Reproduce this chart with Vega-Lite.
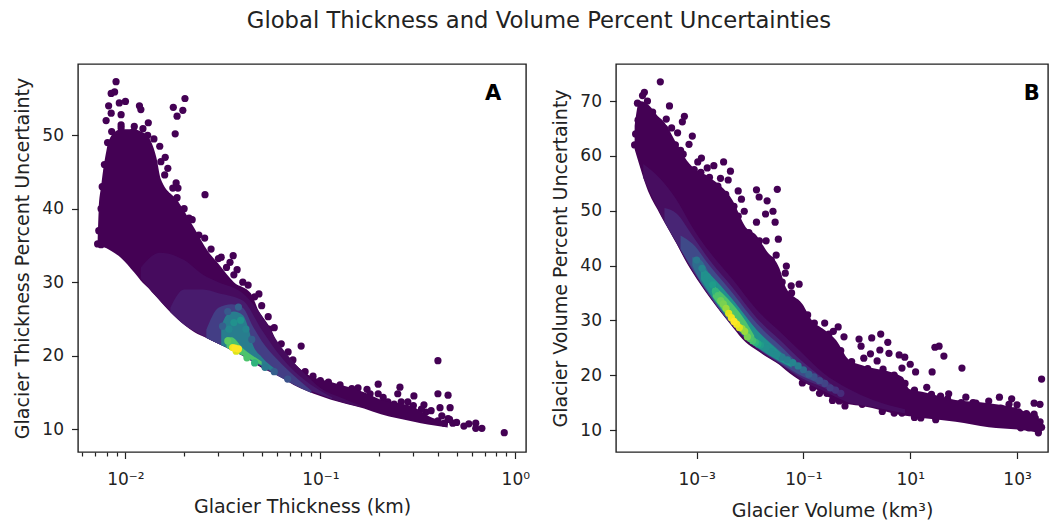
{
"$schema":"https://vega.github.io/schema/vega-lite/v6.json",
"padding":{"left":13,"top":9,"right":0,"bottom":0},
"background":"white",
"title":{"text":"Global Thickness and Volume Percent Uncertainties","anchor":"middle","fontSize":22.7,"fontWeight":"normal","font":"DejaVu Sans","color":"#222","offset":31,"dx":8},
"config":{"view":{"stroke":"#222","strokeWidth":1.4},"font":"DejaVu Sans","axis":{"grid":false,"domain":false,"tickColor":"#222","tickWidth":1.2,"labelColor":"#222","titleColor":"#222","labelFont":"DejaVu Sans","titleFont":"DejaVu Sans","labelFontSize":17,"titleFontSize":19,"titleFontWeight":"normal","labelOverlap":false,"labelBound":false,"labelFlush":false,"labelPadding":8}},
"datasets":{
"aBand":[
{"x":0.0072,"lo":35.2,"hi":35.4,"d":0},{"x":0.0073,"lo":35,"hi":40,"d":0},{"x":0.0075,"lo":34.9,"hi":43,"d":0},{"x":0.008,"lo":34.6,"hi":48,"d":0},{"x":0.0085,"lo":34.2,"hi":50,"d":0},{"x":0.0095,"lo":33.3,"hi":50.8,"d":0},{"x":0.0111,"lo":31.3,"hi":50.8,"d":0},{"x":0.012,"lo":30.2,"hi":50.5,"d":0},{"x":0.0131,"lo":29.2,"hi":49.8,"d":0},{"x":0.0136,"lo":28.7,"hi":49,"d":0},{"x":0.0144,"lo":28,"hi":47,"d":0},{"x":0.0152,"lo":27.3,"hi":44,"d":0},{"x":0.0186,"lo":24.9,"hi":41,"d":0},{"x":0.0225,"lo":23.2,"hi":37.4,"d":0},{"x":0.0265,"lo":22.3,"hi":34.2,"d":0},{"x":0.03,"lo":21.6,"hi":32.5,"d":0},{"x":0.036,"lo":20.6,"hi":30,"d":0},{"x":0.044,"lo":19.3,"hi":28.5,"d":0},{"x":0.048,"lo":18.6,"hi":26.2,"d":0},{"x":0.056,"lo":17.7,"hi":23.5,"d":0},{"x":0.061,"lo":17.3,"hi":21.2,"d":0},{"x":0.073,"lo":16,"hi":19,"d":0},{"x":0.0865,"lo":15.1,"hi":17.4,"d":0},{"x":0.1135,"lo":14,"hi":16.4,"d":0},{"x":0.1675,"lo":12.8,"hi":15,"d":0},{"x":0.2046,"lo":12,"hi":14,"d":0},{"x":0.302,"lo":11,"hi":13,"d":0},{"x":0.356,"lo":10.6,"hi":11.8,"d":0},{"x":0.45,"lo":10.2,"hi":10.9,"d":0},
{"x":0.012,"lo":30.5,"hi":32,"d":0.025},{"x":0.015,"lo":27.5,"hi":34,"d":0.025},{"x":0.02,"lo":24.3,"hi":33,"d":0.025},{"x":0.025,"lo":22.7,"hi":31,"d":0.025},{"x":0.03,"lo":21.6,"hi":30,"d":0.025},{"x":0.04,"lo":20.1,"hi":28.5,"d":0.025},{"x":0.05,"lo":18.6,"hi":25.5,"d":0.025},{"x":0.06,"lo":17.4,"hi":22,"d":0.025},{"x":0.08,"lo":15.7,"hi":18,"d":0.025},{"x":0.1,"lo":14.7,"hi":15.6,"d":0.025},{"x":0.13,"lo":13.6,"hi":14.2,"d":0.025},{"x":0.16,"lo":13,"hi":13.2,"d":0.025},
{"x":0.017,"lo":25.9,"hi":26.5,"d":0.07},{"x":0.02,"lo":24.2,"hi":29,"d":0.07},{"x":0.025,"lo":22.7,"hi":29,"d":0.07},{"x":0.03,"lo":21.6,"hi":28.5,"d":0.07},{"x":0.04,"lo":20.1,"hi":27.5,"d":0.07},{"x":0.05,"lo":18.5,"hi":23.5,"d":0.07},{"x":0.06,"lo":17.3,"hi":20.5,"d":0.07},{"x":0.08,"lo":15.7,"hi":17,"d":0.07},{"x":0.1,"lo":14.7,"hi":15.2,"d":0.07},{"x":0.115,"lo":14.1,"hi":14.3,"d":0.07},
{"x":0.026,"lo":22.4,"hi":23.5,"d":0.18},{"x":0.03,"lo":21.6,"hi":26.5,"d":0.18},{"x":0.035,"lo":20.7,"hi":27,"d":0.18},{"x":0.04,"lo":20,"hi":26.5,"d":0.18},{"x":0.045,"lo":19.2,"hi":24,"d":0.18},{"x":0.05,"lo":18.5,"hi":22,"d":0.18},{"x":0.06,"lo":17.3,"hi":19.5,"d":0.18},{"x":0.075,"lo":15.9,"hi":17,"d":0.18},{"x":0.09,"lo":14.9,"hi":15.2,"d":0.18},
{"x":0.031,"lo":21.4,"hi":24,"d":0.42},{"x":0.033,"lo":21.1,"hi":25.5,"d":0.42},{"x":0.036,"lo":20.6,"hi":26,"d":0.42},{"x":0.04,"lo":20,"hi":25.5,"d":0.42},{"x":0.043,"lo":19.5,"hi":23.5,"d":0.42},{"x":0.045,"lo":19.2,"hi":21.5,"d":0.42},{"x":0.05,"lo":18.6,"hi":19.8,"d":0.42},{"x":0.06,"lo":17.4,"hi":18,"d":0.42},
{"x":0.033,"lo":21.1,"hi":22.5,"d":0.72},{"x":0.035,"lo":20.7,"hi":22.5,"d":0.72},{"x":0.04,"lo":20,"hi":21,"d":0.72},{"x":0.05,"lo":18.7,"hi":19.2,"d":0.72}
],
"aPts":[
{"x":0.00895,"y":57.3},{"x":0.00845,"y":55.7},{"x":0.0088,"y":55.9},{"x":0.0082,"y":54},{"x":0.0093,"y":54.4},{"x":0.01,"y":54.6},{"x":0.0118,"y":54},{"x":0.012,"y":53.5},{"x":0.0202,"y":55},{"x":0.0176,"y":53.8},{"x":0.0197,"y":53.4},{"x":0.0184,"y":52.6},{"x":0.018,"y":50.2},{"x":0.0256,"y":41.9},{"x":0.0131,"y":51.7},{"x":0.0111,"y":51.2},{"x":0.0123,"y":50.9},{"x":0.00845,"y":53},{"x":0.0095,"y":52.8},{"x":0.00796,"y":52},{"x":0.0095,"y":51.4},{"x":0.0152,"y":46.4},{"x":0.0159,"y":44.6},{"x":0.0182,"y":43.5},{"x":0.0186,"y":42.8},{"x":0.0184,"y":41.5},{"x":0.0212,"y":38.7},{"x":0.0238,"y":36.4},{"x":0.0357,"y":33.6},{"x":0.0344,"y":32.7},{"x":0.0374,"y":31.7},{"x":0.031,"y":33.4},{"x":0.0426,"y":29.6},{"x":0.0484,"y":28.4},{"x":0.054,"y":25.3},{"x":0.0546,"y":23.6},{"x":0.0797,"y":21.3},{"x":0.0683,"y":20.5},{"x":0.0723,"y":19.4},{"x":0.0835,"y":17.8},{"x":0.0917,"y":17.2},{"x":0.1262,"y":16},{"x":0.156,"y":15.6},{"x":0.198,"y":16.1},{"x":0.1735,"y":15.4},{"x":0.256,"y":15.7},{"x":0.2495,"y":14.8},{"x":0.198,"y":14.8},{"x":0.302,"y":14.5},{"x":0.401,"y":19.3},{"x":0.401,"y":14.8},{"x":0.452,"y":14.6},{"x":0.411,"y":12.9},{"x":0.463,"y":12.9},{"x":0.34,"y":13.3},{"x":0.281,"y":13.7},{"x":0.239,"y":13.4},{"x":0.222,"y":13.7},{"x":0.348,"y":12.3},{"x":0.401,"y":11.1},{"x":0.433,"y":10.8},{"x":0.452,"y":11.4},{"x":0.478,"y":10.8},{"x":0.545,"y":10.4},{"x":0.578,"y":10.7},{"x":0.627,"y":10.8},{"x":0.627,"y":10.1},{"x":0.674,"y":10.1},{"x":0.878,"y":9.5},{"x":0.0072,"y":35.2},{"x":0.0075,"y":35.1},{"x":0.0073,"y":37},{"x":0.0075,"y":40},{"x":0.0076,"y":43},{"x":0.0078,"y":46},{"x":0.0081,"y":49},
{"x":0.0085,"y":50.5},{"x":0.0095,"y":51},{"x":0.0105,"y":50},{"x":0.011,"y":50.5},{"x":0.013,"y":50},{"x":0.014,"y":49.5},{"x":0.015,"y":48.5},{"x":0.016,"y":47},{"x":0.0165,"y":45.5},{"x":0.0175,"y":42.8},{"x":0.02,"y":40},{"x":0.022,"y":38.5},{"x":0.0255,"y":36},{"x":0.0275,"y":34.5},{"x":0.03,"y":33.2},{"x":0.033,"y":32},{"x":0.036,"y":31},{"x":0.04,"y":30},{"x":0.046,"y":28},{"x":0.05,"y":26.8},{"x":0.058,"y":23.8},{"x":0.063,"y":21.6},{"x":0.1,"y":16.6},{"x":0.11,"y":16.4},{"x":0.145,"y":15.5},{"x":0.18,"y":14.8},{"x":0.21,"y":14.3},{"x":0.26,"y":13.7},{"x":0.3,"y":13.2},{"x":0.33,"y":12.7},{"x":0.37,"y":12.5},{"x":0.42,"y":11.8},{"x":0.46,"y":11.3},{"x":0.5,"y":10.9}
],
"aCore":[
{"x":0.0355,"y":21.1,"d":0.98},{"x":0.0365,"y":21,"d":1},{"x":0.038,"y":20.9,"d":1},{"x":0.037,"y":20.6,"d":0.95},{"x":0.0335,"y":22,"d":0.75},{"x":0.036,"y":24.5,"d":0.5},{"x":0.039,"y":24.8,"d":0.52},{"x":0.034,"y":23.6,"d":0.46},{"x":0.0415,"y":23.6,"d":0.45},{"x":0.0315,"y":24,"d":0.3},{"x":0.0445,"y":22.2,"d":0.3},{"x":0.0335,"y":26,"d":0.28},{"x":0.038,"y":26.6,"d":0.3},{"x":0.042,"y":19.7,"d":0.72},{"x":0.046,"y":19,"d":0.65},{"x":0.052,"y":18.4,"d":0.4},{"x":0.058,"y":17.8,"d":0.3},{"x":0.068,"y":16.8,"d":0.25}
],
"bBand":[
{"x":0.000069,"lo":61.2,"hi":65.5,"d":0},{"x":0.000085,"lo":58.3,"hi":70,"d":0},{"x":0.000115,"lo":54.3,"hi":69.6,"d":0},{"x":0.0002,"lo":49.6,"hi":67,"d":0},{"x":0.00023,"lo":48.5,"hi":66.5,"d":0},{"x":0.00042,"lo":44,"hi":62.3,"d":0},{"x":0.00065,"lo":40.5,"hi":59.2,"d":0},{"x":0.00083,"lo":38.8,"hi":58,"d":0},{"x":0.00174,"lo":34.2,"hi":56.1,"d":0},{"x":0.0047,"lo":28.8,"hi":51.9,"d":0},{"x":0.0083,"lo":26,"hi":47,"d":0},{"x":0.0132,"lo":24.6,"hi":45.5,"d":0},{"x":0.02,"lo":23.4,"hi":42.8,"d":0},{"x":0.0355,"lo":21.9,"hi":39.5,"d":0},{"x":0.0468,"lo":20.9,"hi":36,"d":0},{"x":0.0955,"lo":18.8,"hi":33,"d":0},{"x":0.145,"lo":17.9,"hi":30,"d":0},{"x":0.229,"lo":16.7,"hi":28.5,"d":0},{"x":0.407,"lo":15.3,"hi":26.4,"d":0},{"x":0.708,"lo":14.7,"hi":22.8,"d":0},{"x":1.26,"lo":14.4,"hi":21.8,"d":0},{"x":7.08,"lo":12.7,"hi":19.7,"d":0},{"x":9.55,"lo":12.5,"hi":17.5,"d":0},{"x":16.6,"lo":12.2,"hi":17,"d":0},{"x":70.8,"lo":11.5,"hi":15.5,"d":0},{"x":295,"lo":10.5,"hi":14.9,"d":0},{"x":1230,"lo":10,"hi":13.6,"d":0},{"x":2884,"lo":9.4,"hi":11.3,"d":0},
{"x":0.0001,"lo":56,"hi":58.5,"d":0.03},{"x":0.0002,"lo":49.8,"hi":56,"d":0.03},{"x":0.00042,"lo":44,"hi":52,"d":0.03},{"x":0.00083,"lo":39,"hi":47,"d":0.03},{"x":0.00174,"lo":34.4,"hi":42.5,"d":0.03},{"x":0.0047,"lo":29,"hi":37.5,"d":0.03},{"x":0.0132,"lo":24.8,"hi":32,"d":0.03},{"x":0.0355,"lo":22,"hi":28,"d":0.03},{"x":0.0955,"lo":19,"hi":24,"d":0.03},{"x":0.229,"lo":17.2,"hi":20.5,"d":0.03},{"x":0.708,"lo":15,"hi":17.5,"d":0.03},{"x":2,"lo":14.2,"hi":15.5,"d":0.03},{"x":8,"lo":13,"hi":13.8,"d":0.03},
{"x":0.00025,"lo":48,"hi":50.5,"d":0.1},{"x":0.00042,"lo":44.2,"hi":49.5,"d":0.1},{"x":0.00083,"lo":39.2,"hi":45.5,"d":0.1},{"x":0.00174,"lo":34.5,"hi":41,"d":0.1},{"x":0.0047,"lo":29,"hi":36,"d":0.1},{"x":0.0132,"lo":25,"hi":30.5,"d":0.1},{"x":0.0355,"lo":22.2,"hi":26.5,"d":0.1},{"x":0.0955,"lo":19.4,"hi":22.5,"d":0.1},{"x":0.229,"lo":17.8,"hi":19.5,"d":0.1},{"x":0.5,"lo":16.2,"hi":17.2,"d":0.1},
{"x":0.0005,"lo":43,"hi":45.5,"d":0.22},{"x":0.00083,"lo":39.4,"hi":44,"d":0.22},{"x":0.00174,"lo":34.6,"hi":40,"d":0.22},{"x":0.0047,"lo":29.1,"hi":35,"d":0.22},{"x":0.0132,"lo":25.1,"hi":29.5,"d":0.22},{"x":0.0355,"lo":22.3,"hi":25.5,"d":0.22},{"x":0.0955,"lo":19.8,"hi":21.5,"d":0.22},{"x":0.2,"lo":18.5,"hi":19,"d":0.22},
{"x":0.00083,"lo":40,"hi":41.5,"d":0.35},{"x":0.0012,"lo":37,"hi":41,"d":0.35},{"x":0.00174,"lo":34.9,"hi":38.5,"d":0.35},{"x":0.0047,"lo":29.3,"hi":33.7,"d":0.35},{"x":0.0132,"lo":25.2,"hi":28.3,"d":0.35},{"x":0.0355,"lo":22.5,"hi":24.5,"d":0.35},{"x":0.06,"lo":21.3,"hi":22.5,"d":0.35},
{"x":0.0012,"lo":37.5,"hi":40,"d":0.5},{"x":0.00174,"lo":35,"hi":38.5,"d":0.5},{"x":0.0047,"lo":29.5,"hi":33.8,"d":0.5},{"x":0.0132,"lo":25.3,"hi":28.3,"d":0.5},{"x":0.0355,"lo":22.6,"hi":24.3,"d":0.5},{"x":0.06,"lo":21.5,"hi":22.3,"d":0.5},
{"x":0.002,"lo":34.3,"hi":36.5,"d":0.72},{"x":0.0047,"lo":29.6,"hi":33,"d":0.72},{"x":0.0085,"lo":27,"hi":29.7,"d":0.72},{"x":0.012,"lo":25.9,"hi":27.2,"d":0.72}
],
"bPts":[
{"x":0.000209,"y":73.5},{"x":0.000105,"y":71.6},{"x":0.000097,"y":71},{"x":0.000078,"y":69.6},{"x":0.00012,"y":70},{"x":0.00031,"y":69.1},{"x":0.00059,"y":67.2},{"x":0.00054,"y":66.2},{"x":0.00027,"y":66.7},{"x":0.00034,"y":65.1},{"x":0.00044,"y":64.2},{"x":0.00083,"y":63.6},{"x":0.00072,"y":62.1},{"x":0.00056,"y":60.3},{"x":0.00123,"y":59.6},{"x":0.00105,"y":58.9},{"x":0.0032,"y":58.9},{"x":0.0021,"y":58.2},{"x":0.00158,"y":57.8},{"x":0.0043,"y":57.2},{"x":0.0028,"y":55.9},{"x":0.0039,"y":55.6},{"x":0.00174,"y":56.1},{"x":0.006,"y":53.6},{"x":0.0324,"y":53.9},{"x":0.0132,"y":53.8},{"x":0.0148,"y":52.5},{"x":0.0209,"y":51.8},{"x":0.0069,"y":52.1},{"x":0.0078,"y":49.9},{"x":0.0269,"y":49.9},{"x":0.0195,"y":49.4},{"x":0.0132,"y":47.9},{"x":0.0295,"y":47.9},{"x":0.0339,"y":44.8},{"x":0.02,"y":44.5},{"x":0.0309,"y":41.9},{"x":0.0479,"y":39.9},{"x":0.0457,"y":38.6},{"x":0.083,"y":36.6},{"x":0.059,"y":36.3},{"x":0.25,"y":29.5},{"x":0.447,"y":28.8},{"x":0.363,"y":28},{"x":0.575,"y":27},{"x":2.8,"y":27.5},{"x":1.9,"y":26.8},{"x":1.1,"y":26.6},{"x":1.2,"y":25.3},{"x":3.8,"y":26},{"x":4,"y":24},{"x":2.7,"y":24.6},{"x":1.8,"y":23.9},{"x":1.35,"y":23.1},{"x":2.4,"y":22.6},{"x":6.2,"y":23.7},{"x":7.9,"y":23.3},{"x":10,"y":22},{"x":12.6,"y":20.6},{"x":7,"y":21.3},{"x":3.1,"y":21.1},{"x":29,"y":25.1},{"x":34.7,"y":25.3},{"x":42.7,"y":23.5},{"x":25.7,"y":20.6},{"x":93,"y":21.3},{"x":2884,"y":19.3},{"x":20.4,"y":17.8},{"x":52.5,"y":16.6},{"x":37,"y":16.2},{"x":110,"y":16},{"x":468,"y":16},{"x":794,"y":15.7},{"x":295,"y":15.3},{"x":170,"y":14.9},{"x":708,"y":14.7},{"x":1000,"y":14.6},{"x":2090,"y":14.9},{"x":2690,"y":14.7},{"x":1070,"y":13.3},{"x":2090,"y":12.9},{"x":1585,"y":12.7},{"x":2512,"y":10.7},{"x":2512,"y":9.5},{"x":1660,"y":10.4},{"x":1175,"y":10.4},{"x":7,"y":13.1},{"x":15.8,"y":12.2},{"x":1.26,"y":14.7},{"x":0.468,"y":15.3},{"x":2.8,"y":14.4},{"x":0.275,"y":16.7},{"x":0.0955,"y":18.6},
{"x":0.000069,"y":62},{"x":0.000072,"y":64},{"x":0.00008,"y":66.5},{"x":0.00009,"y":68},{"x":0.00015,"y":68},{"x":0.00025,"y":65},{"x":0.0004,"y":62},{"x":0.0005,"y":61},{"x":0.0009,"y":57.5},{"x":0.0012,"y":57},{"x":0.0025,"y":54.5},{"x":0.0035,"y":53},{"x":0.005,"y":50.8},{"x":0.006,"y":49},{"x":0.0095,"y":46},{"x":0.015,"y":44.5},{"x":0.025,"y":41},{"x":0.04,"y":37},{"x":0.06,"y":35},{"x":0.12,"y":31},{"x":0.16,"y":29.5},{"x":0.3,"y":27.5},{"x":0.5,"y":24.5},{"x":0.8,"y":22.5},{"x":1.6,"y":21.2},{"x":3,"y":20.5},{"x":5,"y":20},{"x":8,"y":18.5},{"x":12,"y":17.3},{"x":25,"y":16.5},{"x":50,"y":15.7},{"x":90,"y":15},{"x":150,"y":15},{"x":250,"y":14.3},{"x":500,"y":14},{"x":900,"y":13.5},{"x":1500,"y":13},{"x":2200,"y":12.2},{"x":2700,"y":11.5},{"x":2884,"y":10.5},{"x":0.15,"y":17.7},{"x":0.2,"y":16.7},{"x":0.35,"y":15.4},{"x":0.6,"y":14.4},{"x":3,"y":13.4},{"x":5,"y":13.1},{"x":12,"y":12.3},{"x":30,"y":11.9}
],
"bCore":[
{"x":0.001,"y":41,"d":0.4},{"x":0.00126,"y":39.5,"d":0.45},{"x":0.00158,"y":38,"d":0.5},{"x":0.002,"y":36.5,"d":0.55},{"x":0.00224,"y":35.3,"d":0.65},{"x":0.00251,"y":34.5,"d":0.72},{"x":0.00282,"y":33.6,"d":0.78},{"x":0.00316,"y":33,"d":0.8},{"x":0.00355,"y":32.2,"d":0.85},{"x":0.00398,"y":31.3,"d":0.95},{"x":0.00447,"y":30.5,"d":0.98},{"x":0.00501,"y":29.8,"d":1},{"x":0.00562,"y":29.3,"d":0.98},{"x":0.00631,"y":28.7,"d":0.95},{"x":0.00708,"y":28.5,"d":0.85},{"x":0.00794,"y":28,"d":0.85},{"x":0.00891,"y":27,"d":0.8},{"x":0.01,"y":26.7,"d":0.72},{"x":0.0112,"y":26.3,"d":0.7},{"x":0.0126,"y":26,"d":0.65},{"x":0.0141,"y":25.7,"d":0.6},{"x":0.0158,"y":25.5,"d":0.55},{"x":0.02,"y":25,"d":0.5},{"x":0.0251,"y":24.3,"d":0.48},{"x":0.0316,"y":23.8,"d":0.48},{"x":0.0398,"y":23.3,"d":0.42},{"x":0.0501,"y":22.8,"d":0.42},{"x":0.0631,"y":22.3,"d":0.45},{"x":0.0794,"y":21.7,"d":0.42},{"x":0.1,"y":21,"d":0.35},{"x":0.126,"y":20.2,"d":0.3},{"x":0.158,"y":19.7,"d":0.25},{"x":0.2,"y":19,"d":0.22},{"x":0.251,"y":18.5,"d":0.2},{"x":0.316,"y":17.7,"d":0.17},{"x":0.398,"y":17.3,"d":0.14},{"x":0.501,"y":16.7,"d":0.12}
]
},
"hconcat":[
{"width":448,"height":388,"layer":[
{"data":{"name":"aPts"},"mark":{"type":"circle","size":52,"opacity":1,"color":"#440154"},"encoding":{"x":{"field":"x","type":"quantitative","title":"Glacier Thickness (km)","scale":{"type":"log","domain":[0.00571,1.135],"nice":false},"axis":{"labelPadding":13,"titlePadding":10,"values":[0.006,0.007,0.008,0.009,0.01,0.02,0.03,0.04,0.05,0.06,0.07,0.08,0.09,0.1,0.2,0.3,0.4,0.5,0.6,0.7,0.8,0.9,1],"labelExpr":"datum.value==0.01?'10⁻²':datum.value==0.1?'10⁻¹':datum.value==1?'10⁰':''","tickSize":{"condition":{"test":"datum.value==0.01||datum.value==0.1||datum.value==1","value":6.5},"value":4}}},"y":{"field":"y","type":"quantitative","title":"Glacier Thickness Percent Uncertainty","scale":{"domain":[6.87,59.7],"nice":false,"zero":false},"axis":{"values":[10,20,30,40,50],"tickSize":6.5,"titlePadding":9}}}},
{"data":{"name":"aBand"},"mark":{"type":"area","interpolate":"monotone"},"encoding":{"x":{"field":"x","type":"quantitative"},"y":{"field":"lo","type":"quantitative"},"y2":{"field":"hi"},"detail":{"field":"d"},"color":{"field":"d","type":"quantitative","scale":{"scheme":"viridis","domain":[0,1]},"legend":null}}},
{"data":{"name":"aCore"},"mark":{"type":"circle","size":52,"opacity":1},"encoding":{"x":{"field":"x","type":"quantitative"},"y":{"field":"y","type":"quantitative"},"order":{"field":"d"},"color":{"field":"d","type":"quantitative","legend":null}}},
{"data":{"values":[{"x":0.769,"y":55.6,"t":"A"}]},"mark":{"type":"text","fontSize":21,"fontWeight":"bold","color":"black","font":"DejaVu Sans"},"encoding":{"x":{"field":"x","type":"quantitative"},"y":{"field":"y","type":"quantitative"},"text":{"field":"t"}}}
]},
{"width":432,"height":388,"layer":[
{"data":{"name":"bPts"},"mark":{"type":"circle","size":52,"opacity":1,"color":"#440154"},"encoding":{"x":{"field":"x","type":"quantitative","title":"Glacier Volume (km³)","scale":{"type":"log","domain":[0.0000309,3802],"nice":false},"axis":{"labelPadding":13,"titlePadding":14,"values":[0.001,0.1,10,1000],"labelExpr":"datum.value==0.001?'10⁻³':datum.value==0.1?'10⁻¹':datum.value==10?'10¹':'10³'","tickSize":6.5}},"y":{"field":"y","type":"quantitative","title":"Glacier Volume Percent Uncertainty","scale":{"domain":[6,76.75],"nice":false,"zero":false},"axis":{"values":[10,20,30,40,50,60,70],"tickSize":6.5,"titlePadding":9}}}},
{"data":{"name":"bBand"},"mark":{"type":"area","interpolate":"monotone"},"encoding":{"x":{"field":"x","type":"quantitative"},"y":{"field":"lo","type":"quantitative"},"y2":{"field":"hi"},"detail":{"field":"d"},"color":{"field":"d","type":"quantitative","scale":{"scheme":"viridis","domain":[0,1]},"legend":null}}},
{"data":{"name":"bCore"},"mark":{"type":"circle","size":52,"opacity":1},"encoding":{"x":{"field":"x","type":"quantitative"},"y":{"field":"y","type":"quantitative"},"order":{"field":"d"},"color":{"field":"d","type":"quantitative","legend":null}}},
{"data":{"values":[{"x":1885,"y":71.3,"t":"B"}]},"mark":{"type":"text","fontSize":21,"fontWeight":"bold","color":"black","font":"DejaVu Sans"},"encoding":{"x":{"field":"x","type":"quantitative"},"y":{"field":"y","type":"quantitative"},"text":{"field":"t"}}}
]}
],
"spacing":20
}
